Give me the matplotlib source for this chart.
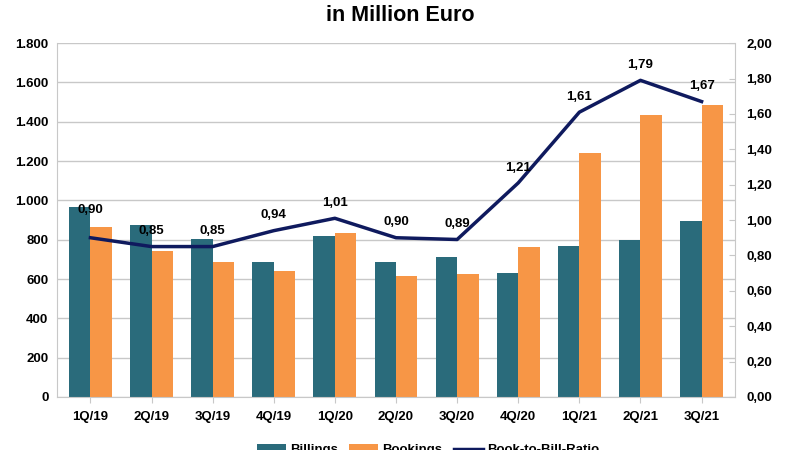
import numpy as np
import matplotlib.pyplot as plt

plt.rcParams['font.family'] = ['Liberation Sans', 'DejaVu Sans']
plt.rcParams['font.weight'] = 'bold'

quarters = ['1Q/19', '2Q/19', '3Q/19', '4Q/19', '1Q/20', '2Q/20', '3Q/20',
            '4Q/20', '1Q/21', '2Q/21', '3Q/21']
billings = [965, 875, 804, 687, 821, 684, 710, 633, 770, 801, 894]
bookings = [865, 743, 684, 643, 835, 616, 626, 765, 1240, 1433, 1483]
ratio = [0.90, 0.85, 0.85, 0.94, 1.01, 0.90, 0.89, 1.21, 1.61, 1.79, 1.67]

teal = '#2a6b7b'
orange = '#f79646'
navy = '#0f1a5e'
grid_c = '#c8c8c8'

fig = plt.figure(figsize=(8, 4.5), dpi=100)
ax = fig.add_axes([0.071, 0.118, 0.848, 0.786])
x = np.arange(len(quarters))
w = 0.35
ax.bar(x - w / 2, billings, w, color=teal, label='Billings', zorder=2)
ax.bar(x + w / 2, bookings, w, color=orange, label='Bookings', zorder=2)
ax.set_ylim(0, 1800)
ax.set_yticks(np.arange(0, 1801, 200))
ax.set_yticklabels([f'{v:,}'.replace(',', '.') for v in range(0, 1801, 200)])
ax.set_xlim(-0.55, len(quarters) - 0.45)
ax.set_xticks(x)
ax.set_xticklabels(quarters)
ax.yaxis.grid(True, color=grid_c, lw=1, zorder=0)
ax.set_axisbelow(True)
for s in ['top', 'right']:
    ax.spines[s].set_visible(False)
ax.spines['left'].set_color(grid_c)
ax.spines['bottom'].set_color(grid_c)
ax.tick_params(axis='both', labelsize=9.5, colors='black', length=0, pad=6)
ax.tick_params(axis='x', length=4, color=grid_c)

ax2 = ax.twinx()
ax2.plot(x, ratio, color=navy, lw=2.5, label='Book-to-Bill-Ratio', zorder=3)
ax2.set_ylim(0, 2.0)
ax2.set_yticks(np.arange(0, 2.01, 0.2))
ax2.set_yticklabels([f'{v:.2f}'.replace('.', ',') for v in np.arange(0, 2.01, 0.2)])
for s in ['top', 'left', 'bottom']:
    ax2.spines[s].set_visible(False)
ax2.spines['right'].set_color(grid_c)
ax2.tick_params(axis='y', labelsize=9.5, colors='black', length=4, direction='in', pad=8)
ax2.tick_params(axis='y', color=grid_c)

for i, r in enumerate(ratio):
    off = 20 if i == 0 else 11
    ax2.annotate(f'{r:.2f}'.replace('.', ','), (x[i], r), xytext=(0, off),
                 textcoords='offset points', ha='center', va='center',
                 fontsize=9.5, fontweight='bold')

# first title line sits mostly above the canvas, as in the source image
fig.text(0.5, 1.025, 'Billings and Bookings of Semiconductor Equipment (Germany)',
         ha='center', va='center', fontsize=15.5, fontweight='bold')
fig.text(0.5, 0.965, 'in Million Euro', ha='center', va='center',
         fontsize=15.5, fontweight='bold')

h1, l1 = ax.get_legend_handles_labels()
h2, l2 = ax2.get_legend_handles_labels()
fig.legend(h1 + h2, l1 + l2, loc='center', bbox_to_anchor=(0.535, 0.0), ncol=3,
           frameon=False, fontsize=9.5, handlelength=2.2, columnspacing=0.9,
           handletextpad=0.3)

fig.savefig('out.png', dpi=100)
